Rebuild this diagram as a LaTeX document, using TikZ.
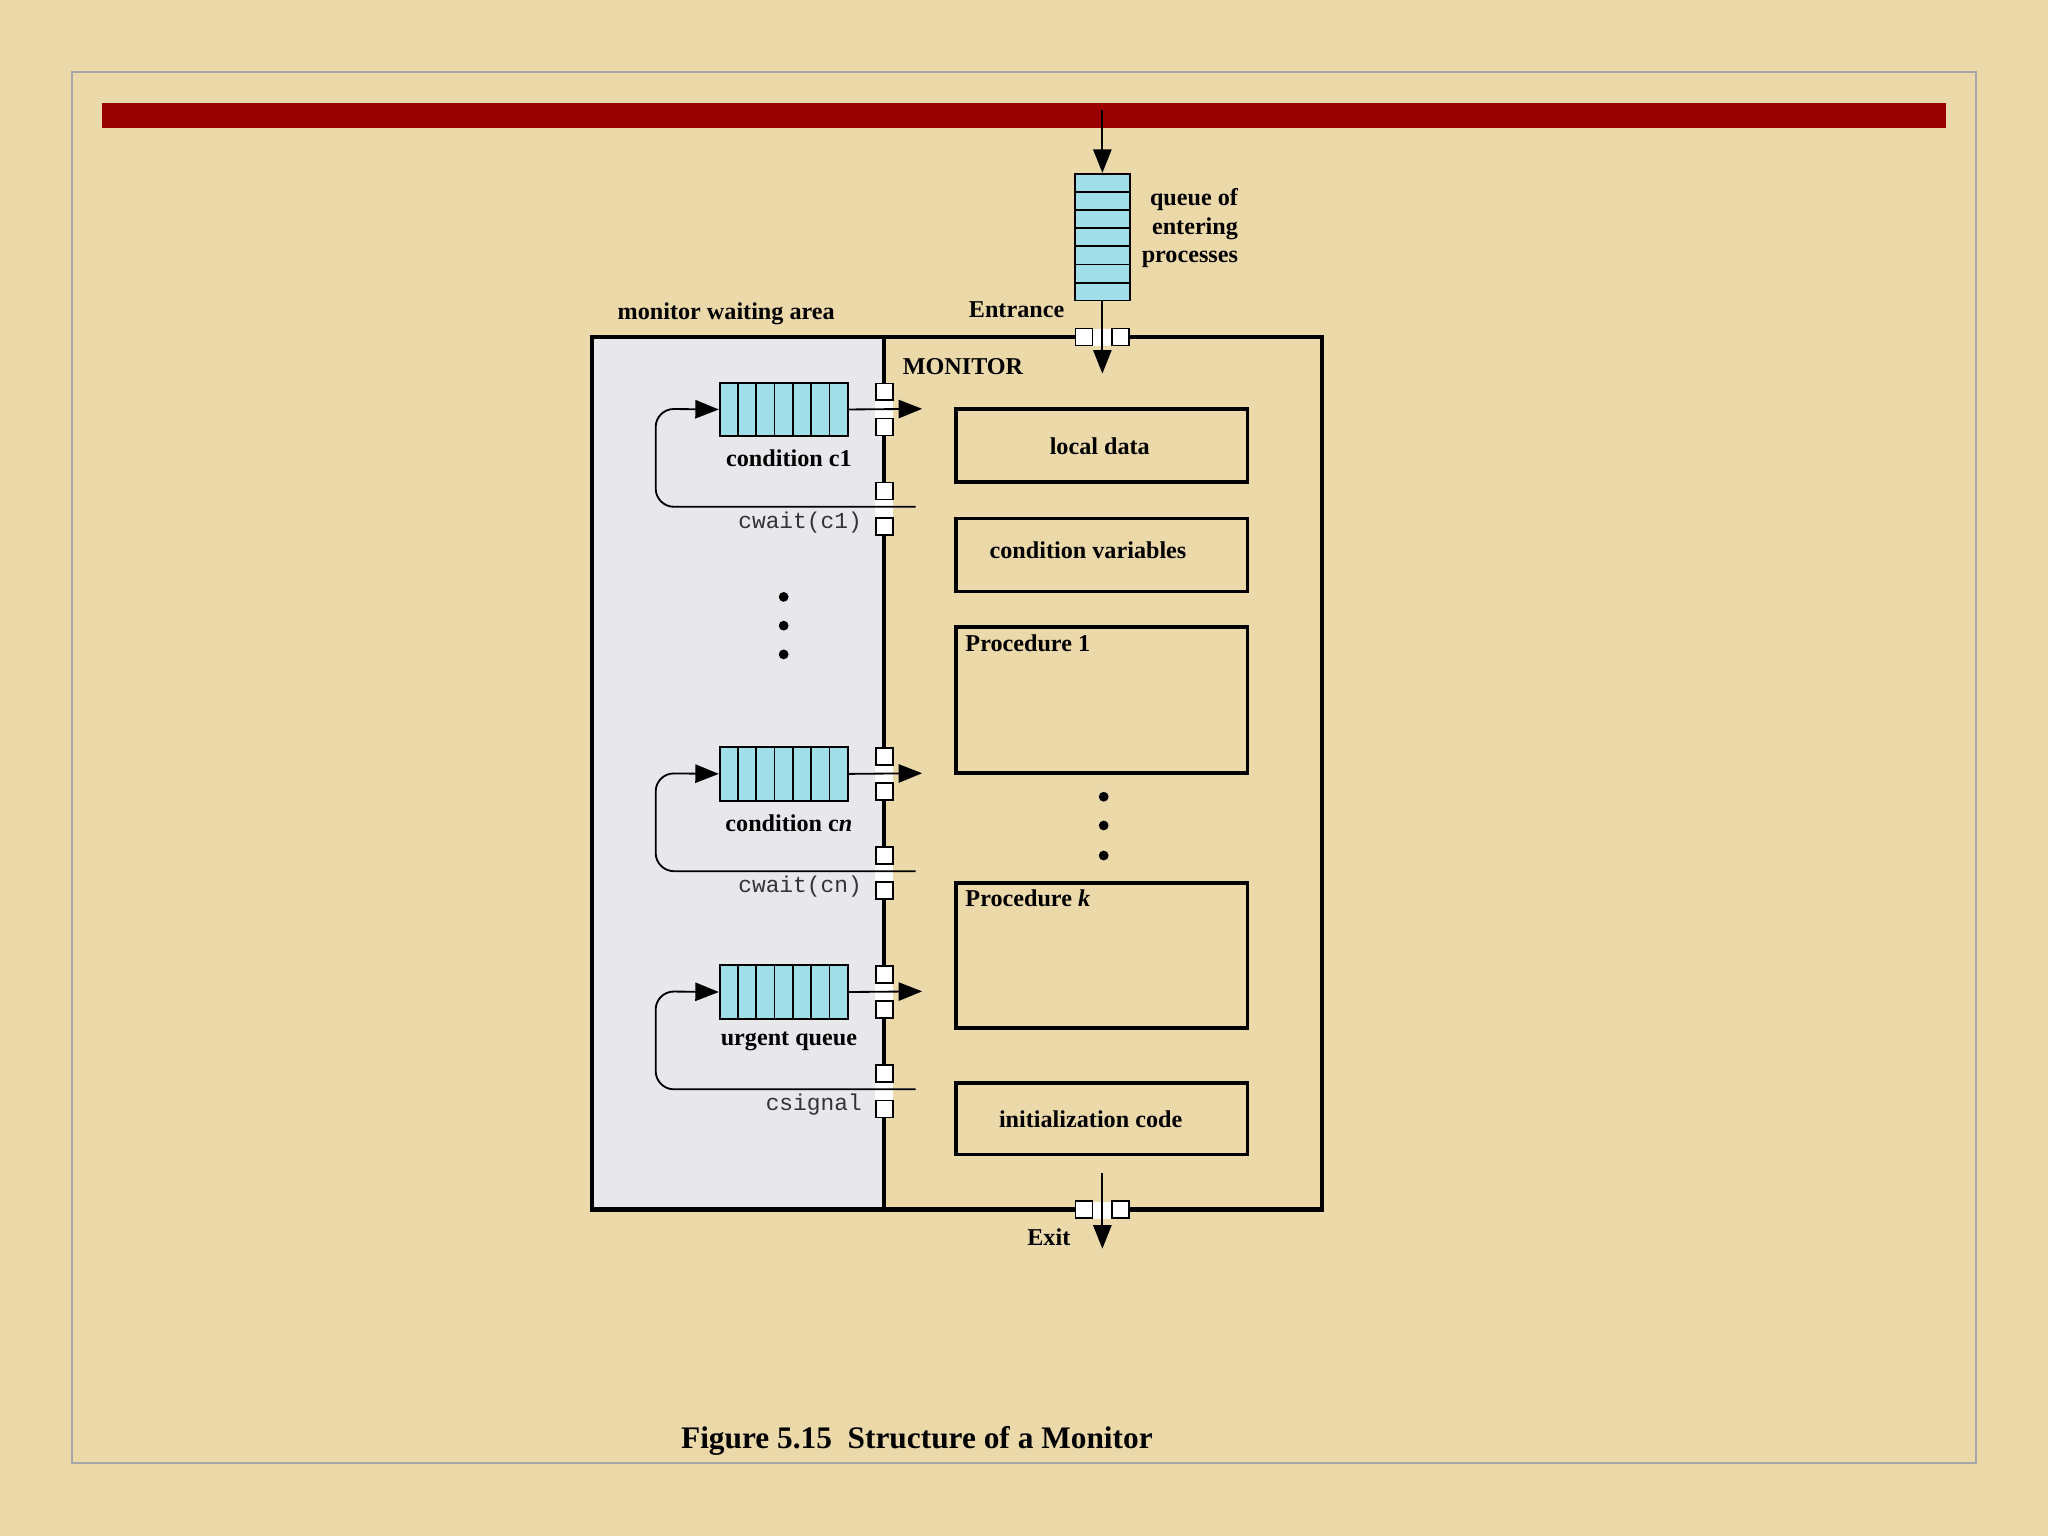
\documentclass[tikz,border=0pt]{standalone}
\usepackage{fontspec}
\setmainfont{Liberation Serif}
\setmonofont{Liberation Mono}
\usetikzlibrary{arrows.meta}
\definecolor{parch}{RGB}{236,217,170}
\definecolor{barred}{RGB}{153,0,0}
\definecolor{qcyan}{RGB}{160,222,232}
\definecolor{waitgray}{RGB}{232,231,236}
\tikzset{
  lbl/.style={font=\bfseries\fontsize{18.5}{22}\selectfont, inner sep=0pt},
  mono/.style={font=\ttfamily\fontsize{17.5}{20}\selectfont, inner sep=0pt, text=black!80},
  sq/.style={draw, fill=white, line width=1.3pt, minimum size=13pt, inner sep=0pt},
  boxr/.style={draw, line width=2.7pt},
  arr/.style={-{Triangle[length=18pt,width=14pt]}, line width=1.4pt},
  dot/.style={circle, fill=black, inner sep=0pt, minimum size=7.5pt},
}
\begin{document}
\begin{tikzpicture}[x=1pt,y=-1pt]
\useasboundingbox (0,0) rectangle (1568,1176);
\fill[parch] (0,0) rectangle (1568,1176);
\draw[gray!70, line width=1.5pt] (55,55) rectangle (1513,1120);
\fill[barred] (78,79) rectangle (1490,98);
% waiting area
\fill[waitgray] (453,258) rectangle (677,926);
\draw[line width=3.2pt] (453,258) rectangle (1012,926);
\draw[line width=3.2pt] (677,258) -- (677,926);
% entrance queue
\coordinate (topin) at (844,84);
\node[draw, fill=qcyan, line width=1.3pt, minimum width=42pt, minimum height=97pt, inner sep=0pt] (eq) at (844,181.5) {};
\foreach \i in {1,...,6} \draw[line width=1.3pt] (823,{133+\i*13.9}) -- (865,{133+\i*13.9});
\draw[arr] (topin) -- (eq.north);
\fill[white] (836,252) rectangle (852,265);
\coordinate (entin) at (844,286);
\draw[arr] (eq.south) -- (entin);
\node[sq] (es1) at (830,258) {};
\node[sq] (es2) at (858,258) {};
\node[lbl, align=right, anchor=north east, font=\bfseries\fontsize{18.5}{22}\selectfont] (qlab) at (948,144) {queue of\\entering\\processes};
\node[lbl, anchor=east] (entl) at (815,237) {Entrance};
\node[lbl] (mwa) at (556,240) {monitor waiting area};
\node[lbl, anchor=west] (mon) at (691,281) {MONITOR};
% condition queues
\foreach \y/\n/\lab/\call in {293/c1/{condition c1}/{cwait(c1)}, 572/cn/{condition c\textit{n}}/{cwait(cn)}, 739/ur/{urgent queue}/{csignal}} {
  \node[draw, fill=qcyan, line width=1.3pt, minimum width=98pt, minimum height=41pt, inner sep=0pt] (q\n) at (600,\y+20.5) {};
  \foreach \i in {1,...,6} \draw[line width=1.3pt] ({551+\i*14},\y) -- ({551+\i*14},\y+41);
  \fill[white] (670,\y+7) rectangle (684,\y+34);
  \fill[white] (670,\y+83) rectangle (684,\y+110);
  \coordinate (out\n) at (706,\y+20);
  \draw[arr] (q\n.east) -- (out\n);
  \coordinate (ret\n) at (701,\y+95);
  \draw[arr, rounded corners=14pt] (ret\n) -- (502,\y+95) -- (502,\y+20) -- (q\n.west);
  \node[sq] (s1\n) at (677,\y+7) {};
  \node[sq] (s2\n) at (677,\y+34) {};
  \node[sq] (s3\n) at (677,\y+83) {};
  \node[sq] (s4\n) at (677,\y+110) {};
  \node[lbl] (l\n) at (604,\y+58) {\lab};
  \node[mono, anchor=east] (c\n) at (660,\y+107) {\call};
}
\node[dot] (d1) at (600,457) {};
\node[dot] (d2) at (600,479) {};
\node[dot] (d3) at (600,501) {};
\node[dot] (d4) at (845,610) {};
\node[dot] (d5) at (845,632) {};
\node[dot] (d6) at (845,655) {};
% right boxes
\draw[boxr] (732,313) rectangle (955,369);
\node[lbl] (ld) at (842,342) {local data};
\draw[boxr] (732,397) rectangle (955,453);
\node[lbl] (cv) at (833,421) {condition variables};
\draw[boxr] (732,480) rectangle (955,592);
\node[lbl, anchor=north west] (p1) at (739,486) {Procedure 1};
\draw[boxr] (732,676) rectangle (955,787);
\node[lbl, anchor=north west] (pk) at (739,681) {Procedure \textit{k}};
\draw[boxr] (732,829) rectangle (955,884);
\node[lbl] (ic) at (835,857) {initialization code};
% exit
\fill[white] (836,920) rectangle (852,933);
\coordinate (exs) at (844,898);
\coordinate (exe) at (844,956);
\draw[arr] (exs) -- (exe);
\node[sq] (xs1) at (830,926) {};
\node[sq] (xs2) at (858,926) {};
\node[lbl] (exl) at (803,947) {Exit};
\node[lbl, font=\bfseries\fontsize{24}{27}\selectfont] (cap) at (702,1103) {Figure 5.15\ \ Structure of a Monitor};
\end{tikzpicture}
\end{document}
